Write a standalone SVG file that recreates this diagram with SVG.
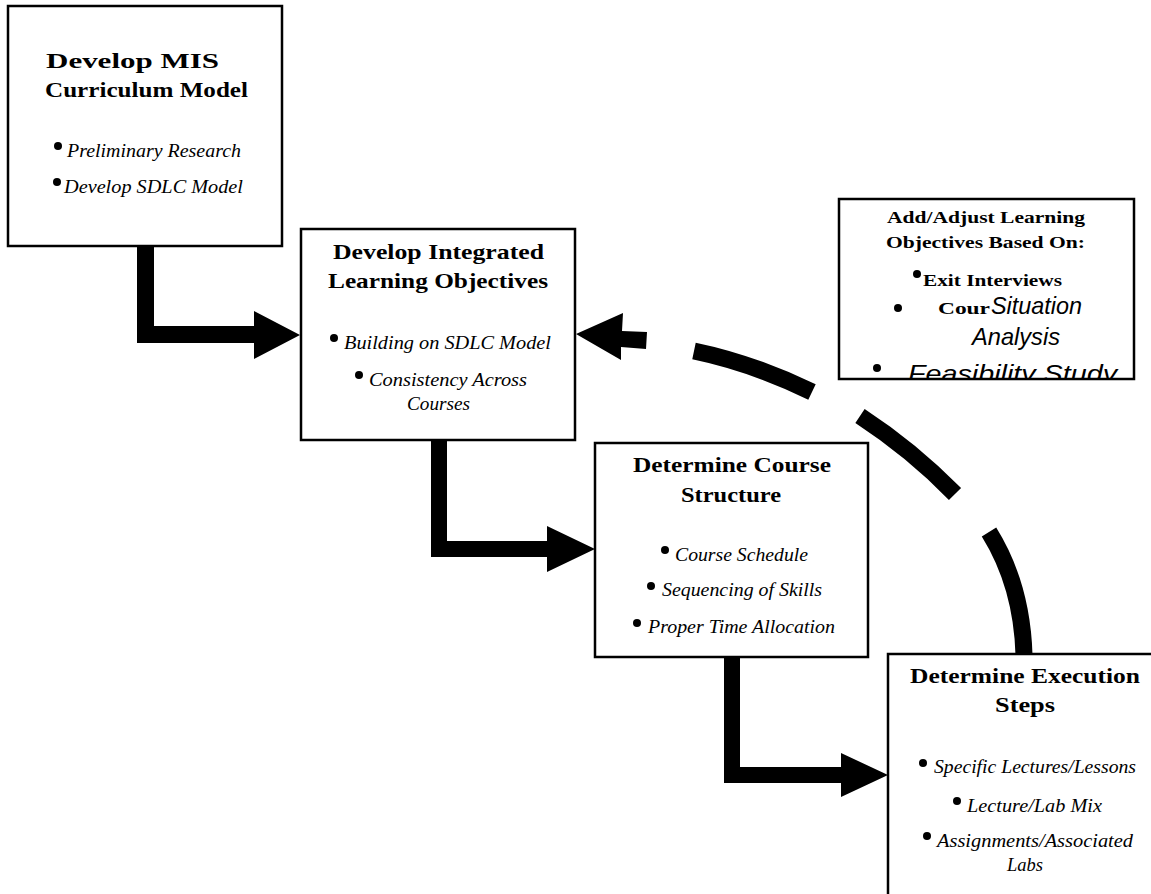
<svg xmlns="http://www.w3.org/2000/svg" width="1151" height="894" viewBox="0 0 1151 894">
<defs>
<style>
.box{fill:#fff;stroke:#000;stroke-width:2.5}
.t{font-family:"Liberation Serif","Times New Roman",serif;font-weight:bold;font-size:22px;fill:#000}
.b{font-family:"Liberation Serif","Times New Roman",serif;font-style:italic;font-size:19px;fill:#000}
.t5{font-family:"Liberation Serif","Times New Roman",serif;font-weight:bold;font-size:17px;fill:#000}
.s5{font-family:"Liberation Sans",Arial,sans-serif;font-style:italic;font-size:24px;fill:#000}
.dot{fill:#000}
.arr{fill:#000}
.dash{fill:none;stroke:#000;stroke-width:17;stroke-linecap:butt}
</style>
<clipPath id="clip5"><rect x="839" y="199" width="295" height="179"/></clipPath>
</defs>
<rect width="1151" height="894" fill="#fff"/>
<g id="connectors">
<polygon class="arr" points="137,246 154,246 154,326 254,326 254,311 300,335 254,359 254,343 137,343"/>
<polygon class="arr" points="431,440 447,440 447,541 547,541 547,526 595,549 547,572 547,557 431,557"/>
<polygon class="arr" points="724,657 740,657 740,767 841,767 841,753 888,775 841,797 841,783 724,783"/>
<polygon class="arr" points="576,334 623,313 622,331 647,332 646,349 621,347 621,360"/>
<path class="dash" d="M694,351 Q752,363 812,392"/>
<path class="dash" d="M860,416 Q912,450 955,494"/>
<path class="dash" d="M989,532 Q1022,585 1024,655"/>
</g>
<g id="node1">
<rect class="box" x="8" y="6" width="274" height="240"/>
<text class="t" x="46" y="68" textLength="173" lengthAdjust="spacingAndGlyphs">Develop MIS</text>
<text class="t" x="45" y="97" textLength="203" lengthAdjust="spacingAndGlyphs">Curriculum Model</text>
<circle class="dot" cx="58" cy="146" r="4"/>
<text class="b" x="67" y="157" textLength="174" lengthAdjust="spacingAndGlyphs">Preliminary Research</text>
<circle class="dot" cx="57" cy="182" r="4"/>
<text class="b" x="64" y="193" textLength="179" lengthAdjust="spacingAndGlyphs">Develop SDLC Model</text>
</g>
<g id="node2">
<rect class="box" x="301" y="229" width="274" height="211"/>
<text class="t" x="333" y="259" textLength="211" lengthAdjust="spacingAndGlyphs">Develop Integrated</text>
<text class="t" x="328" y="288" textLength="220" lengthAdjust="spacingAndGlyphs">Learning Objectives</text>
<circle class="dot" cx="334" cy="338" r="4"/>
<text class="b" x="344" y="349" textLength="207" lengthAdjust="spacingAndGlyphs">Building on SDLC Model</text>
<circle class="dot" cx="359" cy="375" r="4"/>
<text class="b" x="369" y="386" textLength="158" lengthAdjust="spacingAndGlyphs">Consistency Across</text>
<text class="b" x="407" y="410" textLength="63" lengthAdjust="spacingAndGlyphs">Courses</text>
</g>
<g id="node3">
<rect class="box" x="595" y="443" width="273" height="214"/>
<text class="t" x="633" y="472" textLength="198" lengthAdjust="spacingAndGlyphs">Determine Course</text>
<text class="t" x="681" y="502" textLength="100" lengthAdjust="spacingAndGlyphs">Structure</text>
<circle class="dot" cx="665" cy="550" r="4"/>
<text class="b" x="675" y="561" textLength="133" lengthAdjust="spacingAndGlyphs">Course Schedule</text>
<circle class="dot" cx="651" cy="586" r="4"/>
<text class="b" x="662" y="596" textLength="160" lengthAdjust="spacingAndGlyphs">Sequencing of Skills</text>
<circle class="dot" cx="637" cy="623" r="4"/>
<text class="b" x="648" y="633" textLength="187" lengthAdjust="spacingAndGlyphs">Proper Time Allocation</text>
</g>
<g id="node4">
<rect class="box" x="888" y="654" width="280" height="260"/>
<text class="t" x="910" y="683" textLength="230" lengthAdjust="spacingAndGlyphs">Determine Execution</text>
<text class="t" x="995" y="712" textLength="60" lengthAdjust="spacingAndGlyphs">Steps</text>
<circle class="dot" cx="923" cy="763" r="4"/>
<text class="b" x="934" y="773" textLength="202" lengthAdjust="spacingAndGlyphs">Specific Lectures/Lessons</text>
<circle class="dot" cx="957" cy="801" r="4"/>
<text class="b" x="967" y="812" textLength="135" lengthAdjust="spacingAndGlyphs">Lecture/Lab Mix</text>
<circle class="dot" cx="927" cy="836" r="4"/>
<text class="b" x="937" y="847" textLength="196" lengthAdjust="spacingAndGlyphs">Assignments/Associated</text>
<text class="b" x="1007" y="871" textLength="36" lengthAdjust="spacingAndGlyphs">Labs</text>
</g>
<g id="node5">
<rect class="box" x="839" y="199" width="295" height="180"/>
<text class="t5" x="887" y="223" textLength="198" lengthAdjust="spacingAndGlyphs">Add/Adjust Learning</text>
<text class="t5" x="886" y="248" textLength="199" lengthAdjust="spacingAndGlyphs">Objectives Based On:</text>
<circle class="dot" cx="917" cy="274" r="4"/>
<text class="t5" x="923" y="286" textLength="139" lengthAdjust="spacingAndGlyphs">Exit Interviews</text>
<circle class="dot" cx="898" cy="308" r="4"/>
<text class="t5" x="938" y="314" textLength="52" lengthAdjust="spacingAndGlyphs">Cour</text>
<text class="s5" x="991" y="314" textLength="91" lengthAdjust="spacingAndGlyphs">Situation</text>
<text class="s5" x="972" y="345" textLength="88" lengthAdjust="spacingAndGlyphs">Analysis</text>
<circle class="dot" cx="877" cy="368" r="4"/>
<g clip-path="url(#clip5)">
<text class="s5" x="908" y="382" textLength="209" lengthAdjust="spacingAndGlyphs">Feasibility Study</text>
</g>
</g>
</svg>
